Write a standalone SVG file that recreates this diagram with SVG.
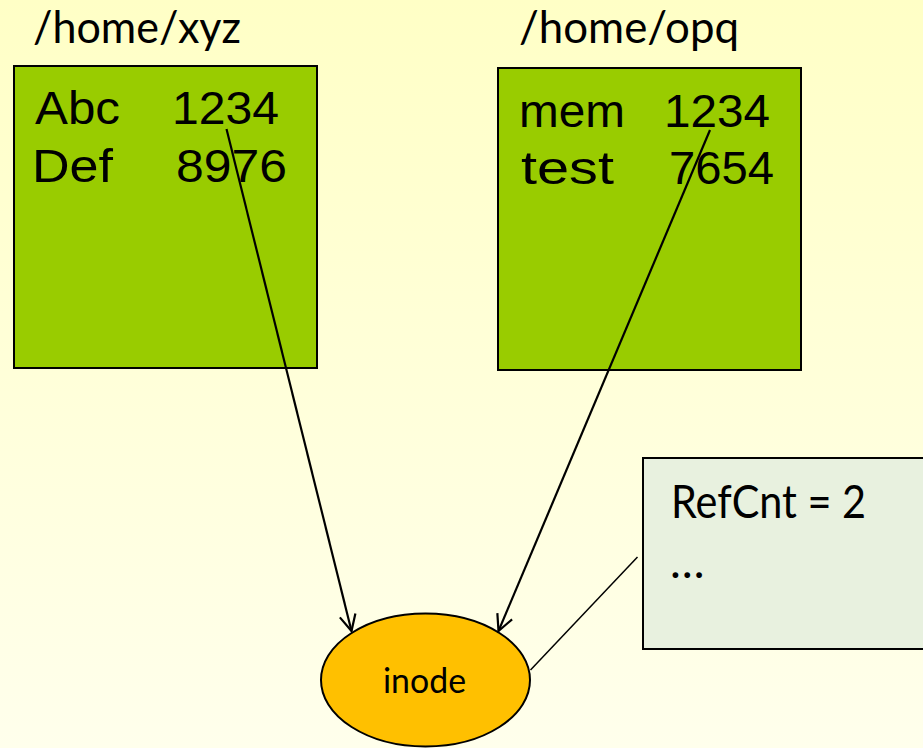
<svg xmlns="http://www.w3.org/2000/svg" width="923" height="748" viewBox="0 0 923 748">
  <defs>
    <linearGradient id="bg" x1="0" y1="0" x2="0" y2="1">
      <stop offset="0" stop-color="#FFFFC6"/>
      <stop offset="1" stop-color="#FFFFEC"/>
    </linearGradient>
    <marker id="arrow" markerWidth="24" markerHeight="24" refX="0" refY="0" viewBox="-18 -12 22 24" markerUnits="userSpaceOnUse" orient="auto">
      <path d="M-16,-8 L0,0 L-16,8" fill="none" stroke="#000" stroke-width="2.2"/>
    </marker>
  </defs>
  <style>
    .title { font-family: Lato, "Liberation Sans", sans-serif; font-size: 45px; fill: #000; }
    .dir { fill: #99CC00; stroke: #000; stroke-width: 2; }
    .entry { font-family: "Liberation Sans", Arial, sans-serif; font-size: 46px; fill: #000; }
    .conn { stroke: #000; stroke-width: 2.2; fill: none; }
    .info { fill: #E8F1DF; stroke: #000; stroke-width: 2; }
    .infotext { font-family: Lato, "Liberation Sans", sans-serif; font-size: 46px; fill: #000; }
    .inode { fill: #FFC000; stroke: #000; stroke-width: 2; }
    .inodetext { font-family: Lato, "Liberation Sans", sans-serif; font-size: 34px; fill: #000; }
  </style>
  <rect x="0" y="0" width="923" height="748" fill="url(#bg)"/>

  <g id="dir-xyz">
    <text class="title" x="33" y="43" textLength="208" lengthAdjust="spacingAndGlyphs">/home/xyz</text>
    <rect class="dir" x="14" y="66" width="303" height="302"/>
    <text class="entry" x="35" y="123.5" textLength="85" lengthAdjust="spacingAndGlyphs">Abc</text>
    <text class="entry" x="172" y="123.5" textLength="107" lengthAdjust="spacingAndGlyphs">1234</text>
    <text class="entry" x="32" y="181.5" textLength="81" lengthAdjust="spacingAndGlyphs">Def</text>
    <text class="entry" x="176" y="181.5" textLength="111" lengthAdjust="spacingAndGlyphs">8976</text>
  </g>

  <g id="dir-opq">
    <text class="title" x="519" y="43" textLength="220" lengthAdjust="spacingAndGlyphs">/home/opq</text>
    <rect class="dir" x="498" y="68" width="303" height="302"/>
    <text class="entry" x="519" y="126.5" textLength="106" lengthAdjust="spacingAndGlyphs">mem</text>
    <text class="entry" x="664" y="126.5" textLength="106" lengthAdjust="spacingAndGlyphs">1234</text>
    <text class="entry" x="521" y="183.5" textLength="93" lengthAdjust="spacingAndGlyphs">test</text>
    <text class="entry" x="669" y="183.5" textLength="105" lengthAdjust="spacingAndGlyphs">7654</text>
  </g>

  <g id="inode-info">
    <rect class="info" x="643" y="458" width="300" height="191"/>
    <text class="infotext" x="671" y="518" textLength="195" lengthAdjust="spacingAndGlyphs">RefCnt = 2</text>
    <text class="infotext" x="670" y="578">…</text>
  </g>

  <g id="inode">
    <ellipse class="inode" cx="425.5" cy="680" rx="104.5" ry="66.5"/>
    <text class="inodetext" x="383" y="693" textLength="83" lengthAdjust="spacingAndGlyphs">inode</text>
  </g>

  <g id="connectors">
    <line class="conn" x1="226.5" y1="129" x2="351.5" y2="631" marker-end="url(#arrow)"/>
    <line class="conn" x1="710" y1="130" x2="498.5" y2="631" marker-end="url(#arrow)"/>
    <line x1="530.5" y1="670" x2="637.5" y2="557" stroke="#000" stroke-width="1.5"/>
  </g>
</svg>
